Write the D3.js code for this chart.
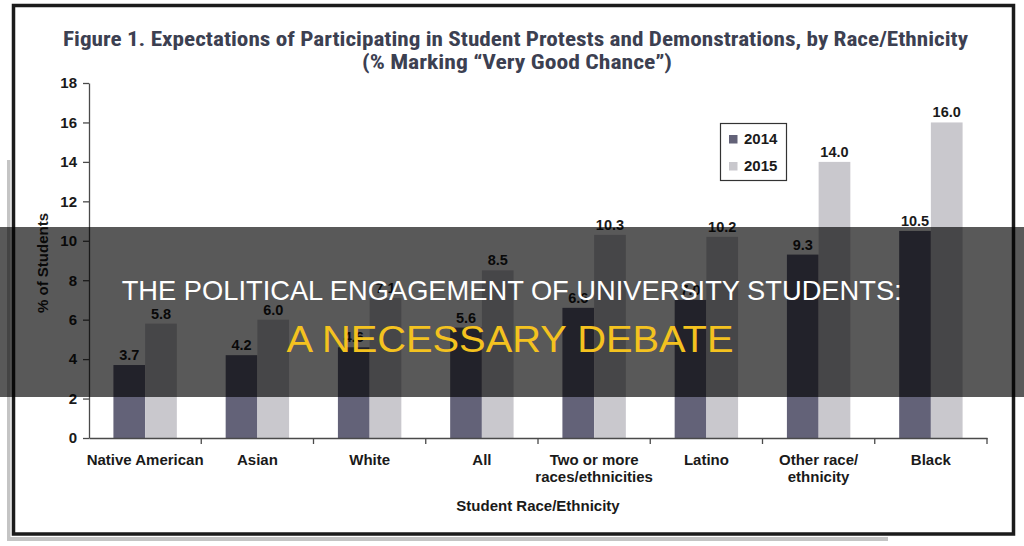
<!DOCTYPE html>
<html>
<head>
<meta charset="utf-8">
<script src="https://cdn.jsdelivr.net/npm/d3@7"></script>
<style>
  html, body { margin: 0; padding: 0; background: #fff; }
  svg { display: block; }
</style>
</head>
<body>
<svg id="chart" width="1024" height="546"></svg>
<script>
// ---- data ----
const categories = ["Native American", "Asian", "White", "All", "Two or more\nraces/ethnicities", "Latino", "Other race/\nethnicity", "Black"];
const series = ["2014", "2015"];
const values2014 = [3.7, 4.2, 4.6, 5.6, 6.6, 7.0, 9.3, 10.5];
const values2015 = [5.8, 6.0, 7.1, 8.5, 10.3, 10.2, 14.0, 16.0];
const yTicks = [0, 2, 4, 6, 8, 10, 12, 14, 16, 18];
const titleLines = ["Figure 1. Expectations of Participating in Student Protests and Demonstrations, by Race/Ethnicity", "(% Marking \u201CVery Good Chance\u201D)"];
const yAxisTitle = "% of Students";
const xAxisTitle = "Student Race/Ethnicity";
const overlayLine1 = "THE POLITICAL ENGAGEMENT OF UNIVERSITY STUDENTS:";
const overlayLine2 = "A NECESSARY DEBATE";

const colors = { "2014": "#636278", "2015": "#c9c8cd" };
const valuesBySeries = { "2014": values2014, "2015": values2015 };

const svg = d3.select("#chart");
const boldFont = "'Liberation Sans', Arial, Helvetica, sans-serif";

// shadow + frame
svg.append("rect").attr("x", 7).attr("y", 160).attr("width", 3.5).attr("height", 381).attr("fill", "#c4c4c4");
svg.append("rect").attr("x", 7).attr("y", 537).attr("width", 881).attr("height", 4).attr("fill", "#c4c4c4");
svg.append("rect").attr("x", 13.5).attr("y", 5.5).attr("width", 1000).attr("height", 528.5)
  .attr("fill", "#fff").attr("stroke", "#1b1b1b").attr("stroke-width", 3.5);

// title
const titleFont = "'Liberation Sans Narrow', 'Roboto Condensed', 'DejaVu Sans Condensed', sans-serif";
svg.append("text").attr("x", 515.5).attr("y", 46).attr("text-anchor", "middle")
  .attr("font-family", titleFont).attr("font-weight", 700).attr("font-size", 20)
  .attr("fill", "#3c4051").attr("textLength", 905).attr("lengthAdjust", "spacingAndGlyphs")
  .text(titleLines[0]);
svg.append("text").attr("x", 517).attr("y", 69).attr("text-anchor", "middle")
  .attr("font-family", titleFont).attr("font-weight", 700).attr("font-size", 20)
  .attr("fill", "#3c4051").attr("textLength", 310).attr("lengthAdjust", "spacingAndGlyphs")
  .text(titleLines[1]);

// scales
const x0 = d3.scaleBand().domain(categories).range([89, 987]).padding(0);
const x1 = d3.scaleBand().domain(series).range([0, x0.bandwidth()]).paddingInner(0).paddingOuter(0.77);
const y = d3.scaleLinear().domain([0, 18]).range([438, 83]);

// bars
const groups = svg.append("g").selectAll("g").data(categories).join("g")
  .attr("transform", d => `translate(${x0(d)},0)`);
groups.selectAll("rect").data((d, i) => series.map(s => ({ s, v: valuesBySeries[s][i] }))).join("rect")
  .attr("x", d => x1(d.s)).attr("y", d => y(d.v))
  .attr("width", x1.bandwidth()).attr("height", d => y(0) - y(d.v))
  .attr("fill", d => colors[d.s]);
groups.selectAll("text.val").data((d, i) => series.map(s => ({ s, v: valuesBySeries[s][i] }))).join("text")
  .attr("class", "val")
  .attr("x", d => x1(d.s) + x1.bandwidth() / 2).attr("y", d => y(d.v) - 5)
  .attr("text-anchor", "middle").attr("font-family", boldFont).attr("font-weight", 700)
  .attr("font-size", 14.5).attr("fill", "#1a1a1a")
  .text(d => d.v.toFixed(1));

// y axis
const yAxis = svg.append("g").attr("transform", "translate(89,0)")
  .call(d3.axisLeft(y).tickValues(yTicks).tickSize(6).tickSizeOuter(0).tickPadding(6).tickFormat(d3.format("d")));
yAxis.select(".domain").attr("stroke", "#4a4a4a").attr("stroke-width", 1.3);
yAxis.selectAll(".tick line").attr("stroke", "#4a4a4a").attr("stroke-width", 1.3);
yAxis.selectAll(".tick text").attr("font-family", boldFont).attr("font-weight", 700)
  .attr("font-size", 15).attr("fill", "#1a1a1a");

// x axis (labels at band centers, ticks at band boundaries)
const xAxis = svg.append("g").attr("transform", `translate(0,${y(0)})`)
  .call(d3.axisBottom(x0).tickSize(0).tickPadding(0).tickSizeOuter(0));
xAxis.select(".domain").attr("stroke", "#4a4a4a").attr("stroke-width", 1.3);
xAxis.selectAll(".tick text").each(function(d) {
  const t = d3.select(this).text(null)
    .attr("font-family", boldFont).attr("font-weight", 700).attr("font-size", 15).attr("fill", "#1a1a1a")
    .attr("dy", null).attr("y", 0);
  d.split("\n").forEach((line, i) => {
    t.append("tspan").attr("x", 0).attr("y", 27 + i * 17).text(line);
  });
});
xAxis.selectAll("line.bound").data(categories).join("line").attr("class", "bound")
  .attr("x1", d => x0(d) + x0.bandwidth()).attr("x2", d => x0(d) + x0.bandwidth())
  .attr("y1", 0).attr("y2", 6).attr("stroke", "#4a4a4a").attr("stroke-width", 1.3);

// axis titles
svg.append("text").attr("x", 538).attr("y", 511).attr("text-anchor", "middle")
  .attr("font-family", boldFont).attr("font-weight", 700).attr("font-size", 15).attr("fill", "#1a1a1a")
  .text(xAxisTitle);
svg.append("text").attr("transform", "translate(48,263) rotate(-90)").attr("text-anchor", "middle")
  .attr("font-family", boldFont).attr("font-weight", 700).attr("font-size", 15).attr("fill", "#1a1a1a")
  .text(yAxisTitle);

// legend
const legend = svg.append("g");
legend.append("rect").attr("x", 720.5).attr("y", 123.5).attr("width", 66).attr("height", 57)
  .attr("fill", "#fff").attr("stroke", "#333").attr("stroke-width", 1.2);
series.forEach((s, i) => {
  legend.append("rect").attr("x", 729).attr("y", 135 + i * 27).attr("width", 8.5).attr("height", 8.5).attr("fill", colors[s]);
  legend.append("text").attr("x", 744).attr("y", 144 + i * 27)
    .attr("font-family", boldFont).attr("font-weight", 700).attr("font-size", 15).attr("fill", "#1a1a1a")
    .text(s);
});

// overlay banner
svg.append("rect").attr("x", 0).attr("y", 227).attr("width", 1024).attr("height", 170).attr("fill", "rgba(0,0,0,0.65)");
svg.append("text").attr("x", 511.7).attr("y", 300).attr("text-anchor", "middle")
  .attr("font-family", "'Liberation Sans', Arial, sans-serif").attr("font-size", 28).attr("fill", "#ffffff")
  .attr("textLength", 780).attr("lengthAdjust", "spacingAndGlyphs")
  .text(overlayLine1);
svg.append("text").attr("x", 510).attr("y", 351.5).attr("text-anchor", "middle")
  .attr("font-family", "'Liberation Sans', Arial, sans-serif").attr("font-size", 37).attr("fill", "#f4c21f")
  .attr("textLength", 447).attr("lengthAdjust", "spacingAndGlyphs")
  .text(overlayLine2);
</script>
</body>
</html>
